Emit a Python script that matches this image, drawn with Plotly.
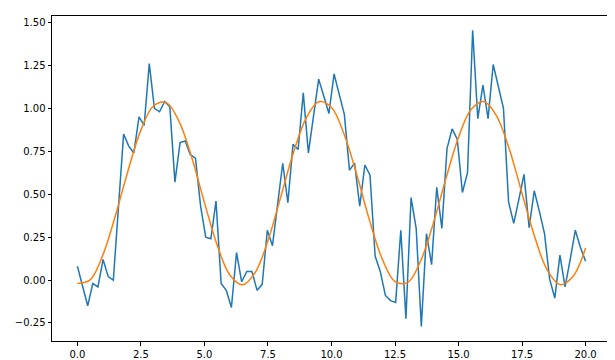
import plotly.graph_objects as go

# Noisy measurements: 100 samples over 0..20
n_points = 100
x_start, x_end = 0.0, 20.0
y_data = [
    0.08, -0.04, -0.15, -0.02, -0.04, 0.12, 0.02, 0.00, 0.43, 0.85,
    0.78, 0.74, 0.95, 0.90, 1.26, 1.00, 0.98, 1.04, 1.01, 0.57,
    0.80, 0.81, 0.73, 0.71, 0.43, 0.25, 0.24, 0.46, -0.02, -0.06,
    -0.16, 0.16, -0.01, 0.05, 0.05, -0.06, -0.025, 0.29, 0.20, 0.44,
    0.68, 0.45, 0.79, 0.76, 1.09, 0.74, 0.95, 1.17, 1.07, 0.97,
    1.20, 1.09, 0.965, 0.64, 0.68, 0.43, 0.67, 0.61, 0.14, 0.05,
    -0.09, -0.12, -0.13, 0.29, -0.225, 0.48, 0.30, -0.27, 0.27, 0.09,
    0.54, 0.30, 0.765, 0.88, 0.82, 0.51, 0.625, 1.455, 0.94, 1.135,
    0.94, 1.255, 1.13, 1.00, 0.455, 0.33, 0.47, 0.615, 0.305, 0.52,
    0.40, 0.27, 0.005, -0.105, 0.145, -0.04, 0.12, 0.29, 0.19, 0.11,
]
x_data = [x_start + (x_end - x_start) * i / (n_points - 1) for i in range(n_points)]

# Fitted smooth curve, read at 0.5 steps
x_fit = [i * 0.5 for i in range(41)]
y_fit = [
    -0.020, 0.001, 0.145, 0.377, 0.641, 0.873, 1.015, 1.033, 0.924, 0.713,
    0.451, 0.204, 0.029, -0.028, 0.045, 0.230, 0.483, 0.741, 0.942, 1.038,
    1.005, 0.847, 0.611, 0.346, 0.122, -0.009, -0.014, 0.108, 0.327, 0.589,
    0.832, 0.995, 1.040, 0.955, 0.761, 0.504, 0.250, 0.056, -0.027, 0.020,
    0.186,
]

x_ticks = [0, 2.5, 5, 7.5, 10, 12.5, 15, 17.5, 20]
x_tick_labels = ["0.0", "2.5", "5.0", "7.5", "10.0", "12.5", "15.0", "17.5", "20.0"]
y_ticks = [-0.25, 0, 0.25, 0.5, 0.75, 1.0, 1.25, 1.5]
y_tick_labels = ["\u22120.25", "0.00", "0.25", "0.50", "0.75", "1.00", "1.25", "1.50"]

fig = go.Figure()
fig.add_trace(go.Scatter(x=x_data, y=y_data, mode="lines",
                         line=dict(color="#1f77b4", width=1.5), showlegend=False))
fig.add_trace(go.Scatter(x=x_fit, y=y_fit, mode="lines",
                         line=dict(color="#ff7f0e", width=1.5, shape="spline", smoothing=1.0),
                         showlegend=False))

axis_common = dict(
    showline=True, linecolor="black", linewidth=1, mirror=True,
    ticks="outside", ticklen=3.5, tickwidth=1, tickcolor="black",
    showgrid=False, zeroline=False,
    tickfont=dict(family="DejaVu Sans", size=10, color="black"),
)
fig.update_xaxes(range=[-1, 21], tickmode="array", tickvals=x_ticks,
                 ticktext=x_tick_labels, **axis_common)
fig.update_yaxes(range=[-0.355, 1.5376], tickmode="array", tickvals=y_ticks,
                 ticktext=y_tick_labels, **axis_common)

fig.update_layout(
    width=615, height=360,
    margin=dict(l=44, r=12, t=8, b=27),
    paper_bgcolor="white", plot_bgcolor="white",
)

fig.write_html("out.html")
